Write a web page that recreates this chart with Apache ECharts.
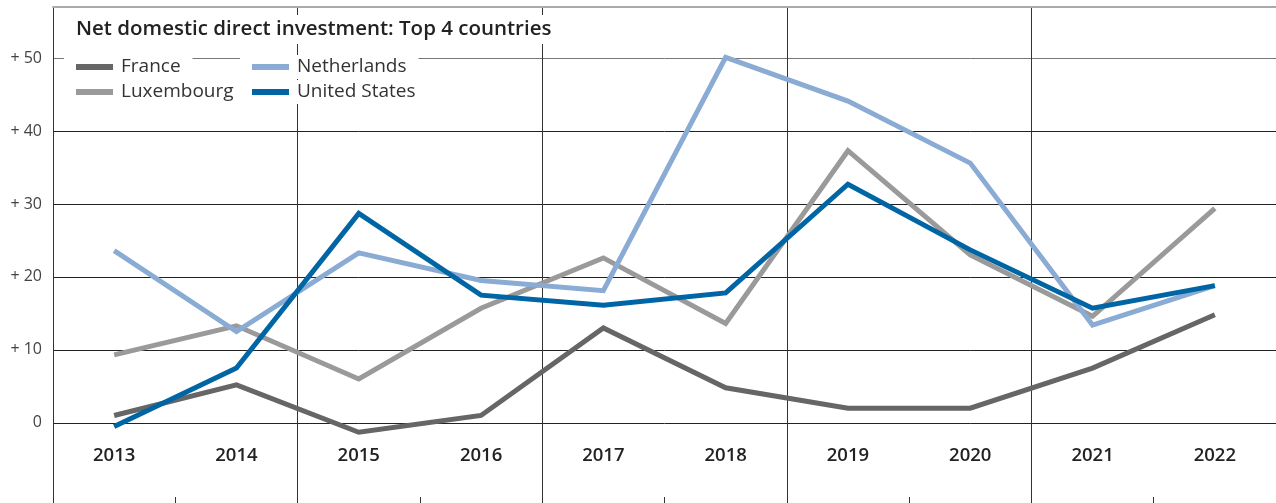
<!DOCTYPE html>
<html lang="en">
<head>
<meta charset="utf-8">
<title>Net domestic direct investment: Top 4 countries</title>
<script src="https://cdn.jsdelivr.net/npm/echarts@6/dist/echarts.min.js"></script>
<style>
  html, body { margin: 0; padding: 0; background: #fff; }
  #main { width: 1276px; height: 503px; }
</style>
</head>
<body>
<div id="main"></div>
<script type="text/javascript">
// years on the x axis
var years = ['2013', '2014', '2015', '2016', '2017', '2018', '2019', '2020', '2021', '2022'];
// two-year blocks, only used for the vertical grid lines
var yearPairs = ['2013-14', '2015-16', '2017-18', '2019-20', '2021-22'];
// values
var france      = [1.0, 5.2, -1.3, 1.0, 13.0, 4.8, 2.0, 2.0, 7.5, 14.8];
var luxembourg  = [9.3, 13.3, 6.0, 15.7, 22.6, 13.6, 37.3, 23.0, 14.6, 29.4];
var netherlands = [23.6, 12.5, 23.3, 19.5, 18.1, 50.1, 44.1, 35.6, 13.4, 18.8];
var unitedStates = [-0.5, 7.5, 28.7, 17.5, 16.1, 17.8, 32.7, 23.7, 15.7, 18.8];
// y tick labels
var yTicks = [0, 10, 20, 30, 40, 50];

var chart = echarts.init(document.getElementById('main'));
var font = '"Open Sans", "Noto Sans", sans-serif';

function legendBox(name, left, top) {
  return {
    data: [name],
    left: left,
    top: top,
    orient: 'horizontal',
    icon: 'rect',
    itemWidth: 37,
    itemHeight: 6,
    padding: [2, 12, 2, 12],
    backgroundColor: '#fff',
    selectedMode: false,
    textStyle: { fontFamily: font, fontSize: 19, color: '#333', lineHeight: 20, padding: [0, 0, 0, 3] }
  };
}

function line(name, data, color) {
  return {
    name: name,
    type: 'line',
    data: data,
    symbol: 'none',
    lineStyle: { width: 5, color: color, cap: 'butt', join: 'miter' },
    itemStyle: { color: color },
    z: 3
  };
}

var option = {
  animation: false,
  backgroundColor: '#fff',
  title: {
    text: 'Net domestic direct investment: Top 4 countries',
    left: 71,
    top: 15,
    padding: [4, 5, 4, 5],
    backgroundColor: '#fff',
    textStyle: { fontFamily: font, fontSize: 20.5, fontWeight: 600, color: '#222' }
  },
  legend: [
    legendBox('France', 64, 55),
    legendBox('Netherlands', 240, 55),
    legendBox('Luxembourg', 64, 80),
    legendBox('United States', 240, 80)
  ],
  grid: { left: 53, right: 0, top: 7, bottom: 0, containLabel: false },
  xAxis: [{
    type: 'category',
    data: years,
    boundaryGap: true,
    position: 'bottom',
    axisLine: { show: false, onZero: false },
    axisTick: { show: true, inside: true, length: 6, interval: 0, lineStyle: { color: '#333', width: 1 } },
    axisLabel: { inside: true, margin: 38, interval: 0, fontFamily: font, fontSize: 18.5, fontWeight: 600, color: '#222' },
    splitLine: { show: false }
  }, {
    type: 'category',
    data: yearPairs,
    boundaryGap: true,
    position: 'top',
    axisLine: { show: true, onZero: false, lineStyle: { color: '#aaa', width: 2 } },
    axisTick: { show: false },
    axisLabel: { show: false },
    splitLine: { show: true, interval: 0, lineStyle: { color: '#333', width: 1 } }
  }],
  yAxis: {
    type: 'value',
    min: -11,
    max: 57,
    axisLine: { show: true, lineStyle: { color: '#333', width: 1 } },
    axisTick: { show: false, customValues: yTicks },
    axisLabel: {
      customValues: yTicks,
      margin: 11,
      fontFamily: font,
      fontSize: 16,
      color: '#444',
      formatter: function (v) { return v === 0 ? '0' : '+ ' + v; }
    },
    splitLine: { show: true, lineStyle: { color: ['#222', '#222', '#222', '#222', '#222', '#777'], width: 1 } }
  },
  series: [
    line('France', france, '#666666'),
    line('Luxembourg', luxembourg, '#9a9a9a'),
    line('Netherlands', netherlands, '#8aabd3'),
    line('United States', unitedStates, '#0065a4')
  ]
};

chart.setOption(option);
</script>
</body>
</html>
